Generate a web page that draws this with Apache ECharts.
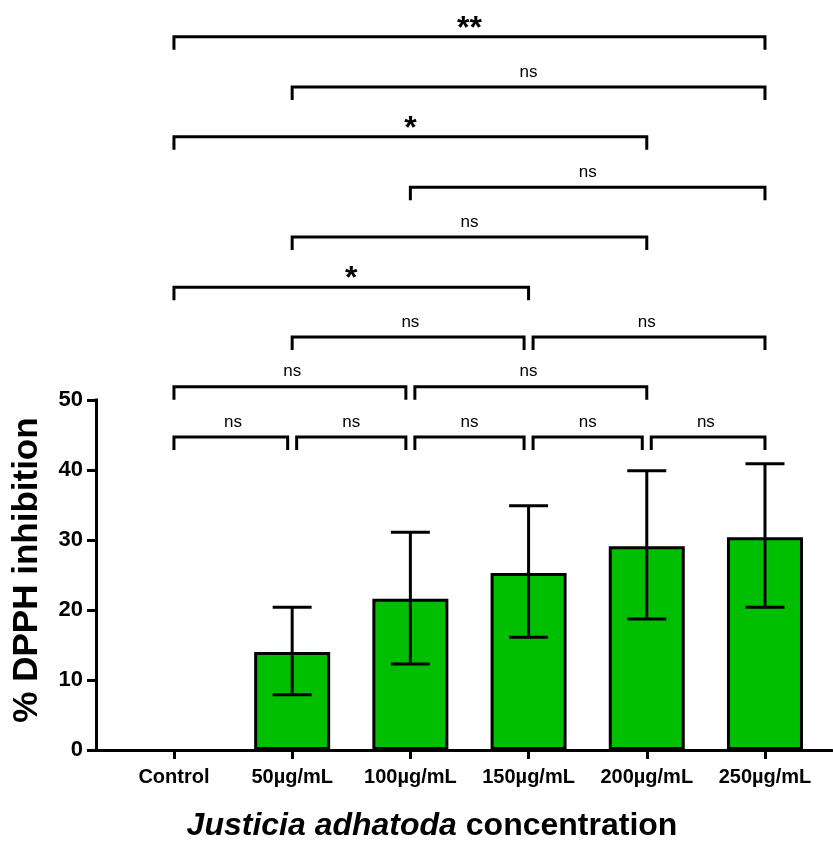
<!DOCTYPE html>
<html>
<head>
<meta charset="utf-8">
<script src="https://cdn.jsdelivr.net/npm/echarts@6/dist/echarts.min.js"></script>
<style>
  html, body { margin: 0; padding: 0; background: #fff; }
  #chart { width: 833px; height: 845px; }
</style>
</head>
<body>
<div id="chart"></div>
<script>
// groups on the x axis
const categories = ['Control', '50µg/mL', '100µg/mL', '150µg/mL', '200µg/mL', '250µg/mL']
// mean % inhibition and error bar ends
const means = [0, 14.0, 21.6, 25.3, 29.1, 30.4]
const errLow = [0, 7.9, 12.3, 16.1, 18.7, 20.4]
const errHigh = [0, 20.4, 31.1, 34.9, 39.9, 40.9]
const yTicks = [0, 10, 20, 30, 40, 50]
// significance brackets: from group, to group, height (y units), label
const bracketFrom = [0, 1, 2, 3, 4, 0, 2, 1, 3, 0, 1, 2, 0, 1, 0]
const bracketTo = [1, 2, 3, 4, 5, 2, 4, 3, 5, 3, 4, 5, 4, 5, 5]
const bracketY = [44.7, 44.7, 44.7, 44.7, 44.7, 51.9, 51.9, 59, 59, 66.1, 73.3, 80.4, 87.6, 94.7, 101.9]
const bracketLabel = ['ns', 'ns', 'ns', 'ns', 'ns', 'ns', 'ns', 'ns', 'ns', '*', 'ns', 'ns', '*', 'ns', '**']

const X_MIN = -0.668
const X_MAX = 5.567
const FONT = '"Liberation Sans", Arial, sans-serif'

const chart = echarts.init(document.getElementById('chart'))

// control has no bar (0 %)
const barData = means.map((v, i) => [i, v]).filter(d => d[1] > 0)
const errData = means.map((v, i) => [i, errLow[i], errHigh[i]])
const bracketData = bracketFrom.map((f, i) => [f, bracketTo[i], bracketY[i]])

// gap where two brackets on the same row meet at one group
function sharesEnd (idx, group) {
  for (let k = 0; k < bracketFrom.length; k++) {
    if (k === idx || bracketY[k] !== bracketY[idx]) continue
    if (bracketFrom[k] === group || bracketTo[k] === group) return true
  }
  return false
}

const options = {
  animation: false,
  backgroundColor: '#fff',
  grid: { left: 95, right: 1, top: 15, bottom: 95 },
  xAxis: {
    type: 'value',
    min: X_MIN,
    max: X_MAX,
    splitLine: { show: false },
    axisLine: { show: true, onZero: false, lineStyle: { color: '#000', width: 3 } },
    axisTick: { show: true, customValues: [0, 1, 2, 3, 4, 5], length: 9, lineStyle: { color: '#000', width: 3 } },
    axisLabel: {
      customValues: [0, 1, 2, 3, 4, 5],
      formatter: v => categories[Math.round(v)],
      margin: 17,
      color: '#000',
      fontFamily: FONT,
      fontWeight: 'bold',
      fontSize: 20
    }
  },
  yAxis: {
    type: 'value',
    min: 0,
    max: 105,
    splitLine: { show: false },
    axisLine: { show: false, onZero: false },
    axisTick: { show: true, customValues: yTicks, length: 8, lineStyle: { color: '#000', width: 3 } },
    axisLabel: {
      customValues: yTicks,
      margin: 12,
      color: '#000',
      fontFamily: FONT,
      fontWeight: 'bold',
      fontSize: 22
    }
  },
  graphic: [
    {
      type: 'text',
      x: 27,
      y: 570,
      rotation: Math.PI / 2,
      style: {
        text: '% DPPH inhibition',
        fill: '#000',
        font: 'bold 35px ' + FONT,
        align: 'center',
        verticalAlign: 'middle'
      }
    },
    {
      type: 'text',
      x: 432,
      y: 826,
      style: {
        text: '{i|Justicia adhatoda }{b|concentration}',
        align: 'center',
        verticalAlign: 'middle',
        rich: {
          i: { fontFamily: FONT, fontWeight: 'bold', fontStyle: 'italic', fontSize: 32, fill: '#000' },
          b: { fontFamily: FONT, fontWeight: 'bold', fontSize: 32, fill: '#000' }
        }
      }
    }
  ],
  series: [
    {
      type: 'bar',
      data: barData,
      barWidth: 76,
      itemStyle: { color: '#00BF00', borderColor: '#000', borderWidth: 3 },
      z: 2
    },
    {
      // y axis line, only up to 50
      type: 'custom',
      data: [[X_MIN, 0, 50]],
      encode: { x: 0, y: [1, 2] },
      silent: true,
      renderItem: (params, api) => {
        const a = api.coord([api.value(0), api.value(1)])
        const b = api.coord([api.value(0), api.value(2)])
        return {
          type: 'line',
          shape: { x1: a[0] + 1.5, y1: a[1] + 1.5, x2: b[0] + 1.5, y2: b[1] - 1.5 },
          style: { stroke: '#000', lineWidth: 3 }
        }
      },
      z: 5
    },
    {
      type: 'custom',
      data: errData,
      encode: { x: 0, y: [1, 2] },
      renderItem: (params, api) => {
        if (api.value(2) === 0) return
        const lo = api.coord([api.value(0), api.value(1)])
        const hi = api.coord([api.value(0), api.value(2)])
        const half = 19.5
        return {
          type: 'group',
          children: [
            { type: 'line', shape: { x1: hi[0], y1: hi[1], x2: lo[0], y2: lo[1] }, style: { stroke: '#000', lineWidth: 3 } },
            { type: 'line', shape: { x1: hi[0] - half, y1: hi[1], x2: hi[0] + half, y2: hi[1] }, style: { stroke: '#000', lineWidth: 3 } },
            { type: 'line', shape: { x1: lo[0] - half, y1: lo[1], x2: lo[0] + half, y2: lo[1] }, style: { stroke: '#000', lineWidth: 3 } }
          ]
        }
      },
      z: 3
    },
    {
      type: 'custom',
      data: bracketData,
      encode: { x: [0, 1], y: 2 },
      renderItem: (params, api) => {
        const i = params.dataIndex
        const p1 = api.coord([api.value(0), api.value(2)])
        const p2 = api.coord([api.value(1), api.value(2)])
        const x1 = p1[0] + (sharesEnd(i, bracketFrom[i]) ? 4.5 : 0)
        const x2 = p2[0] - (sharesEnd(i, bracketTo[i]) ? 4.5 : 0)
        const y = p1[1]
        const lab = bracketLabel[i]
        const star = lab !== 'ns'
        return {
          type: 'group',
          children: [
            {
              type: 'polyline',
              shape: { points: [[x1, y + 13], [x1, y], [x2, y], [x2, y + 13]] },
              style: { stroke: '#000', lineWidth: 3, fill: null, lineJoin: 'miter' }
            },
            {
              type: 'text',
              x: (p1[0] + p2[0]) / 2,
              y: star ? y - 8 : y - 15,
              style: {
                text: lab,
                fill: '#000',
                font: (star ? 'bold 32px ' : '17px ') + FONT,
                align: 'center',
                verticalAlign: 'middle'
              }
            }
          ]
        }
      },
      z: 4
    }
  ]
}

chart.setOption(options)
</script>
</body>
</html>
